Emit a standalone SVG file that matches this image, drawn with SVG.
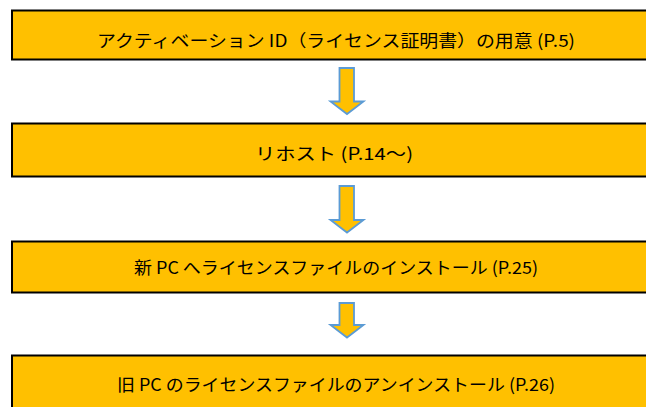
<svg xmlns="http://www.w3.org/2000/svg" width="646" height="407" viewBox="0 0 646 407">
<style>
.box{fill:#FFC000;stroke:#000;stroke-width:2}
.lbl{font-family:"Noto Sans CJK JP","Noto Sans",sans-serif;font-size:17px;fill:#000;text-anchor:middle}
.arr{fill:#FFC000;stroke:#5B9BD5;stroke-width:1.8;stroke-linejoin:miter}
</style>
<rect width="646" height="407" fill="#fff"/>
<g id="connectors">
<path class="arr" d="M339.5,68 H354 V101.5 H363.5 L347,114 L330.5,101.5 H339.5 Z"/>
<path class="arr" d="M339.5,186 H354 V220 H363.5 L347,232.5 L330.5,220 H339.5 Z"/>
<path class="arr" d="M339.5,303 H354 V325 H363.5 L347,337.5 L330.5,325 H339.5 Z"/>
</g>
<g id="n1">
<rect class="box" x="12" y="10.5" width="640" height="49"/>
<text class="lbl" x="336" y="47" textLength="478" lengthAdjust="spacingAndGlyphs">アクティベーション ID（ライセンス証明書）の用意 (P.5)</text>
</g>
<g id="n2">
<rect class="box" x="12" y="123.5" width="640" height="53"/>
<text class="lbl" x="334" y="160" textLength="158" lengthAdjust="spacingAndGlyphs">リホスト (P.14～)</text>
</g>
<g id="n3">
<rect class="box" x="12" y="241.5" width="640" height="51"/>
<text class="lbl" x="336" y="274" textLength="404" lengthAdjust="spacingAndGlyphs">新 PC へライセンスファイルのインストール (P.25)</text>
</g>
<g id="n4">
<rect class="box" x="12" y="355.5" width="640" height="60"/>
<text class="lbl" x="336" y="391" textLength="438" lengthAdjust="spacingAndGlyphs">旧 PC のライセンスファイルのアンインストール (P.26)</text>
</g>
</svg>
